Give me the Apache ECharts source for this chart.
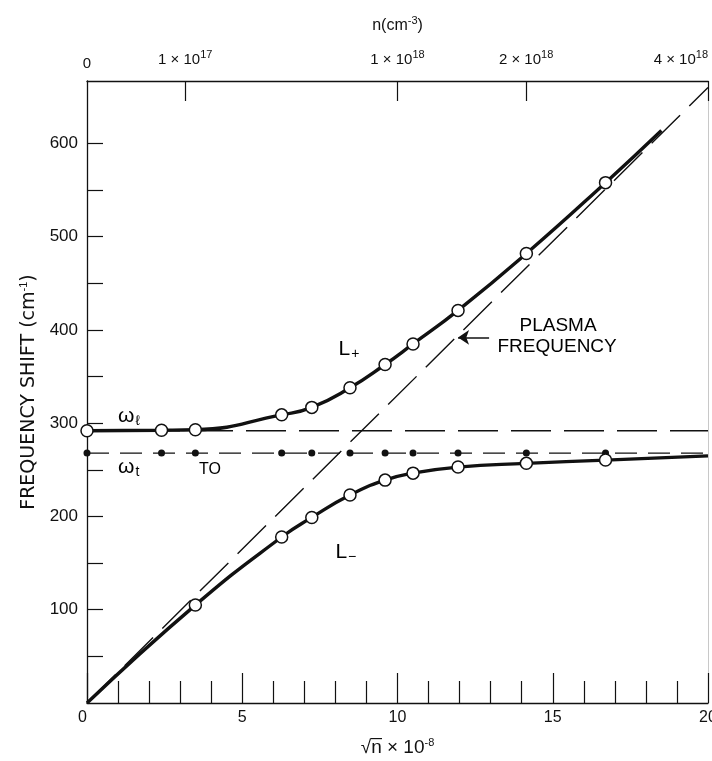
<!DOCTYPE html>
<html>
<head>
<meta charset="utf-8">
<script src="https://cdn.jsdelivr.net/npm/echarts@6/dist/echarts.min.js"></script>
<style>
  html, body { margin: 0; padding: 0; background: #fff; }
  #ech { width: 712px; height: 761px; }
</style>
</head>
<body>
<div id="ech"></div>
<script>
// sample positions, sqrt(n) x 1e-8
var sqrtN = [0, 2.4, 3.49, 6.27, 7.24, 8.47, 9.6, 10.5, 11.95, 14.15, 16.7];
var lPlus = [292, 292.5, 293, 309, 317, 338, 363, 385, 421, 482, 558];
var toDots = [268, 268, 268, 268, 268, 268, 268, 268, 268, 268, 268];

var lMinusX = [3.49, 6.27, 7.24, 8.47, 9.6, 10.5, 11.95, 14.15, 16.7];
var lMinus = [105, 178, 199, 223, 239, 246.5, 253, 257, 260.5];

// curve ends
var lPlusEnd = [18.5, 614];
var lMinusStart = [0, 0];
var lMinusEnd = [20, 265];

var omegaL = [[0, 292], [20, 292]];
var omegaT = [[0, 268], [20, 268]];
var plasma = [[0, 0], [20, 660]];

// axis ticks
var yTicks = [50, 100, 150, 200, 250, 300, 350, 400, 450, 500, 550, 600];
var yLabels = [100, 200, 300, 400, 500, 600];
var nTicks = [0, 1e17, 1e18, 2e18, 4e18];
var nLabels = ['0', '1 × 10{sup|17}', '1 × 10{sup|18}', '2 × 10{sup|18}', '4 × 10{sup|18}'];

var FONT = 'Liberation Sans';
var INK = '#111';
var nPos = nTicks.map(function(n) { return Math.sqrt(n) * 1e-8; });

function pairs(xs, ys) {
  return xs.map(function(x, i) { return [x, ys[i]]; });
}

var lPlusCurve = pairs(sqrtN, lPlus).concat([lPlusEnd]);
var lMinusCurve = [lMinusStart].concat(pairs(lMinusX, lMinus), [lMinusEnd]);

var supStyle = { fontSize: 11, fontFamily: FONT, color: INK, padding: [0, 0, 11, 0] };
var subStyle = { fontSize: 14, fontFamily: FONT, color: INK, padding: [10, 0, 0, 1] };

var myChart = echarts.init(document.getElementById('ech'));

var option = {
  animation: false,
  backgroundColor: '#fff',
  grid: { left: 87, right: 4, top: 81, bottom: 58, outerBoundsMode: 'none' },
  xAxis: [
    {
      type: 'value', min: 0, max: 20, interval: 5, position: 'bottom',
      name: '√n\u0305 × 10{sup|-8}', nameLocation: 'middle', nameGap: 34,
      nameTextStyle: { fontSize: 19, fontFamily: FONT, color: INK, rich: { sup: supStyle } },
      axisLine: { onZero: false, lineStyle: { color: INK, width: 1.3 } },
      axisTick: { inside: true, length: 30, lineStyle: { color: INK, width: 1.2 } },
      minorTick: { show: true, splitNumber: 5, length: 22, lineStyle: { color: INK, width: 1.2 } },
      splitLine: { show: false },
      axisLabel: { fontSize: 16, fontFamily: FONT, color: INK, margin: 7, alignMinLabel: 'right' }
    },
    {
      type: 'value', min: 0, max: 20, position: 'top',
      name: 'n(cm{sup|-3})', nameLocation: 'middle', nameGap: 44,
      nameTextStyle: { fontSize: 16, fontFamily: FONT, color: INK, rich: { sup: supStyle } },
      axisLine: { onZero: false, lineStyle: { color: INK, width: 1.3 } },
      axisTick: { inside: true, length: 20, customValues: nPos.slice(1), lineStyle: { color: INK, width: 1.2 } },
      splitLine: { show: false },
      axisLabel: {
        customValues: nPos, fontSize: 15, fontFamily: FONT, color: INK, margin: 10,
        alignMaxLabel: 'right',
        formatter: function(v) {
          for (var i = 0; i < nPos.length; i++) {
            if (Math.abs(nPos[i] - v) < 1e-6) return nLabels[i];
          }
          return '';
        },
        rich: { sup: supStyle }
      }
    }
  ],
  yAxis: [
    {
      type: 'value', min: 0, max: 667, position: 'left',
      name: 'FREQUENCY SHIFT (cm{sup|-1})', nameLocation: 'middle', nameGap: 47,
      nameTextStyle: { fontSize: 19, fontFamily: 'DejaVu Sans', color: INK, rich: { sup: supStyle } },
      axisLine: { onZero: false, lineStyle: { color: INK, width: 1.3 } },
      axisTick: { inside: true, length: 16, customValues: yTicks, lineStyle: { color: INK, width: 1.2 } },
      splitLine: { show: false },
      axisLabel: { customValues: yLabels, fontSize: 17, fontFamily: FONT, color: INK, margin: 9 }
    },
    {
      type: 'value', min: 0, max: 667, position: 'right',
      axisLine: { show: true, onZero: false, lineStyle: { color: '#c8c8c8', width: 1 } },
      axisTick: { show: false }, axisLabel: { show: false }, splitLine: { show: false }
    }
  ],
  series: [
    {
      name: 'omegaL', type: 'line', data: omegaL, symbol: 'none', z: 1,
      lineStyle: { color: INK, width: 1.4, type: [40, 13] }
    },
    {
      name: 'omegaT', type: 'line', data: omegaT, symbol: 'none', z: 1,
      lineStyle: { color: INK, width: 1.4, type: [22, 11] }
    },
    {
      name: 'plasma', type: 'line', data: plasma, symbol: 'none', z: 1,
      lineStyle: { color: INK, width: 1.4, type: [40, 13] },
      markLine: {
        silent: true, symbol: ['none', 'arrow'], symbolSize: 11,
        label: { show: false },
        lineStyle: { color: INK, width: 1.5, type: 'solid' },
        data: [[{ coord: [12.95, 392] }, { coord: [11.95, 392] }]]
      }
    },
    {
      name: 'L+ curve', type: 'line', data: lPlusCurve, symbol: 'none', z: 2,
      smooth: 0.5,
      lineStyle: { color: INK, width: 3.4 }
    },
    {
      name: 'L- curve', type: 'line', data: lMinusCurve, symbol: 'none', z: 2,
      smooth: 0.5,
      lineStyle: { color: INK, width: 3.4 }
    },
    {
      name: 'TO', type: 'scatter', data: pairs(sqrtN, toDots), z: 5,
      symbol: 'circle', symbolSize: 7, itemStyle: { color: INK, opacity: 1 }
    },
    {
      name: 'L+', type: 'scatter', data: pairs(sqrtN, lPlus), z: 6,
      symbol: 'circle', symbolSize: 12,
      itemStyle: { color: '#fff', borderColor: INK, borderWidth: 1.5, opacity: 1 }
    },
    {
      name: 'L-', type: 'scatter', data: pairs(lMinusX, lMinus), z: 6,
      symbol: 'circle', symbolSize: 12,
      itemStyle: { color: '#fff', borderColor: INK, borderWidth: 1.5, opacity: 1 }
    }
  ]
};

myChart.setOption(option);

// text labels placed in data coordinates
var notes = [
  { at: [1.0, 308], text: '{b|ω}{sub|ℓ}', align: 'left' },
  { at: [1.0, 253], text: '{b|ω}{sub|t}', align: 'left' },
  { at: [3.96, 250], text: '{a|TO}', align: 'center' },
  { at: [8.1, 379], text: '{b|L}{sub|+}', align: 'left' },
  { at: [8.0, 162], text: '{b|L}{sub|−}', align: 'left' },
  { at: [15.17, 405], text: '{p|PLASMA}', align: 'center' },
  { at: [15.14, 382], text: '{p|FREQUENCY}', align: 'center' }
];

var richNotes = {
  a: { fontSize: 16, fontFamily: FONT, color: INK },
  b: { fontSize: 21, fontFamily: FONT, color: INK },
  p: { fontSize: 19, fontFamily: FONT, color: INK },
  sub: subStyle
};

var graphics = notes.map(function(n) {
  var p = myChart.convertToPixel({ xAxisIndex: 0, yAxisIndex: 0 }, n.at);
  return {
    type: 'text', x: p[0], y: p[1],
    style: { text: n.text, rich: richNotes, align: n.align, verticalAlign: 'middle' }
  };
});

myChart.setOption({ graphic: graphics });
</script>
</body>
</html>
